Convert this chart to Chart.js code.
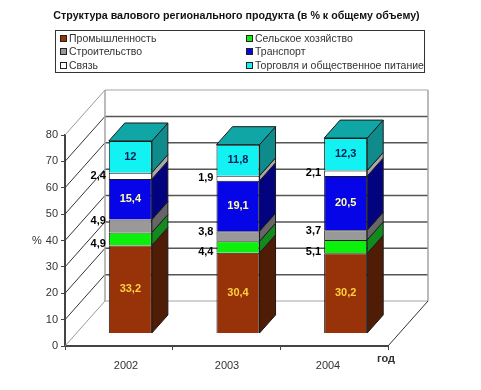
<!DOCTYPE html>
<html>
<head>
<meta charset="utf-8">
<script src="https://cdn.jsdelivr.net/npm/chart.js@4"></script>
<style>
  body { margin: 0; background: #fff; }
  #wrap { position: relative; width: 481px; height: 390px; overflow: hidden; }
  canvas { position: absolute; left: 0; top: 0; }
  #title {
    position: absolute; left: 0; top: 9px; width: 473px; text-align: center; white-space: nowrap;
    font: bold 10.7px "Liberation Sans", Arial, sans-serif; color: #111;
  }
  #legend {
    position: absolute; left: 55px; top: 30px; width: 364px; height: 41px;
    border: 1px solid #333; padding-left: 4px;
    display: grid; grid-template-columns: 186px 1fr; grid-auto-rows: 13.6px;
    font: 10.5px "Liberation Sans", Arial, sans-serif; color: #333; align-items: center;
  }
  #legend i {
    display: inline-block; width: 5px; height: 5px; border: 1px solid #222;
    margin-right: 2px; vertical-align: 0;
  }
  #legend span { white-space: nowrap; }
</style>
</head>
<body>
<div id="wrap">
  <canvas id="chart" width="473" height="390"></canvas>
  <div id="title">Структура валового регионального продукта (в % к общему объему)</div>
  <div id="legend"></div>
</div>
<script>
/* data */
const years = [2002, 2003, 2004];
const yTicksMax = 80;
const seriesNames = ['Промышленность', 'Сельское хозяйство', 'Строительство', 'Транспорт', 'Связь', 'Торговля и общественное питание'];
const industry = [33.2, 30.4, 30.2];
const agriculture = [4.9, 4.4, 5.1];
const construction = [4.9, 3.8, 3.7];
const transport = [15.4, 19.1, 20.5];
const telecom = [2.4, 1.9, 2.1];
const trade = [12, 11.8, 12.3];
const seriesValues = [industry, agriculture, construction, transport, telecom, trade];

/* styles, same order as the series */
const frontColors = ['#983208', '#0cf00c', '#999999', '#0505e8', '#ffffff', '#12f2f2'];
const sideColors = ['#4f1c06', '#128a1e', '#666666', '#03037f', '#a8a8a8', '#0f8b8b'];
const topColor = '#10a6a6';
// where the value label goes: inside the bar, or left of it at the segment's base/top/middle
const labelPlace = ['in', 'base', 'top', 'in', 'middle', 'in'];
const labelColors = ['#ffd23c', '#000', '#000', '#ffffa8', '#000', '#0b1f55'];

const WALL_DX = 40, WALL_DY = 45;   // front axis -> back wall
const BAR_DX = 16, BAR_DY = 18;     // depth of a bar
const BAR_SHIFT_X = 11.5, BAR_SHIFT_Y = 13; // bars stand a bit behind the front axis

const fmtValue = v => String(v).replace('.', ',');

function line(ctx, x1, y1, x2, y2, color, width) {
  ctx.strokeStyle = color;
  ctx.lineWidth = width;
  ctx.beginPath();
  ctx.moveTo(x1, y1);
  ctx.lineTo(x2, y2);
  ctx.stroke();
}

function poly(ctx, pts, fill) {
  ctx.fillStyle = fill;
  ctx.strokeStyle = '#1a1a1a';
  ctx.lineWidth = 1;
  ctx.beginPath();
  pts.forEach((p, i) => i ? ctx.lineTo(p[0], p[1]) : ctx.moveTo(p[0], p[1]));
  ctx.closePath();
  ctx.fill();
  ctx.stroke();
}

/* walls and floor, from the y axis ticks */
const wallsPlugin = {
  id: 'walls',
  beforeDatasetsDraw(chart) {
    const ctx = chart.ctx, y = chart.scales.y, a = chart.chartArea;
    const backL = a.left + WALL_DX, backR = a.right + WALL_DX;
    ctx.save();
    y.ticks.forEach(t => {
      const py = y.getPixelForValue(t.value);
      const edge = t.value === 0 || t.value === yTicksMax;
      line(ctx, backL, py - WALL_DY, backR, py - WALL_DY, edge ? '#a5a5a5' : '#555', edge ? 1 : 1.5);
      line(ctx, a.left, py, backL, py - WALL_DY, edge ? '#999' : '#333', 1);
    });
    line(ctx, backL, a.top - WALL_DY, backL, a.bottom - WALL_DY, '#a5a5a5', 1.5);
    line(ctx, backR, a.top - WALL_DY, backR, a.bottom - WALL_DY, '#a5a5a5', 1.5);
    line(ctx, a.right, a.bottom, backR, a.bottom - WALL_DY, '#333', 1);
    ctx.restore();
  }
};

/* side and top faces of the bars, value labels, axis titles */
const bars3dPlugin = {
  id: 'bars3d',
  afterDatasetsDraw(chart) {
    const ctx = chart.ctx;
    const last = chart.data.datasets.length - 1;
    ctx.save();
    chart.data.datasets.forEach((ds, i) => {
      chart.getDatasetMeta(i).data.forEach(bar => {
        const r = bar.x + bar.width / 2, l = bar.x - bar.width / 2;
        poly(ctx, [[r, bar.y], [r + BAR_DX, bar.y - BAR_DY], [r + BAR_DX, bar.base - BAR_DY], [r, bar.base]], sideColors[i]);
        if (i === last) {
          poly(ctx, [[l, bar.y], [l + BAR_DX, bar.y - BAR_DY], [r + BAR_DX, bar.y - BAR_DY], [r, bar.y]], topColor);
        }
      });
    });
    ctx.font = 'bold 11px "Liberation Sans", Arial, sans-serif';
    ctx.textBaseline = 'middle';
    chart.data.datasets.forEach((ds, i) => {
      ctx.fillStyle = labelColors[i];
      chart.getDatasetMeta(i).data.forEach((bar, j) => {
        const text = fmtValue(seriesValues[i][j]);
        const mid = (bar.y + bar.base) / 2;
        if (labelPlace[i] === 'in') {
          ctx.textAlign = 'center';
          ctx.fillText(text, bar.x, mid);
        } else {
          ctx.textAlign = 'right';
          const py = labelPlace[i] === 'base' ? bar.base - 1 : labelPlace[i] === 'top' ? bar.y + 1 : mid;
          ctx.fillText(text, bar.x - bar.width / 2 - 3, py);
        }
      });
    });
    // axis names
    const a = chart.chartArea;
    ctx.textAlign = 'center';
    ctx.fillStyle = '#333';
    ctx.font = '11px "Liberation Sans", Arial, sans-serif';
    ctx.fillText('%', a.left - 28, (a.top + a.bottom) / 2);
    ctx.font = 'bold 11px "Liberation Sans", Arial, sans-serif';
    ctx.fillText('год', a.right - 2, a.bottom + 13);
    ctx.restore();
  }
};

const datasets = seriesNames.map((name, i) => ({
  label: name,
  data: years.map((yr, j) => ({ x: yr, y: seriesValues[i][j] })),
  backgroundColor: frontColors[i],
  borderColor: '#1a1a1a',
  borderWidth: 1,
  xAxisID: 'xBars',
  yAxisID: 'yBars',
  barPercentage: 0.4,
  categoryPercentage: 1
}));

const tickFont = { size: 11, family: '"Liberation Sans", Arial, sans-serif' };
const axisDark = '#444';
const plotW = 323, plotH = 211; // size of the front axes
const shiftX = BAR_SHIFT_X / (plotW / years.length);
const shiftY = BAR_SHIFT_Y / (plotH / yTicksMax);
const yearTicks = s => { s.ticks = years.map(value => ({ value })); };

new Chart(document.getElementById('chart'), {
  type: 'bar',
  data: { labels: years.map(String), datasets: datasets },
  options: {
    responsive: false,
    animation: false,
    layout: { padding: { left: 0, right: 85, top: 135, bottom: 0 } },
    plugins: {
      legend: { display: false },
      tooltip: { enabled: false }
    },
    scales: {
      // visible front axes
      y: {
        position: 'left',
        min: 0,
        max: yTicksMax,
        ticks: { stepSize: 10, color: '#333', font: tickFont, padding: 3 },
        grid: { drawOnChartArea: false, tickLength: 4, color: axisDark },
        border: { color: axisDark, width: 2 },
        afterFit: s => { s.width = 65; }
      },
      xMarks: {
        type: 'category',
        position: 'bottom',
        offset: true,
        weight: 1,
        labels: years.map(String),
        ticks: { display: false },
        grid: { offset: true, drawOnChartArea: false, tickLength: 4, color: axisDark },
        border: { color: axisDark, width: 2 },
        afterFit: s => { s.height = 5; }
      },
      xLabels: {
        type: 'linear',
        position: 'bottom',
        weight: 2,
        offset: false,
        bounds: 'data',
        min: years[0] - 0.604,
        max: years[2] + 0.594,
        afterBuildTicks: yearTicks,
        ticks: { color: '#333', font: tickFont, padding: 0, maxRotation: 0, callback: v => String(v) },
        grid: { display: false },
        border: { display: false },
        afterFit: s => { s.height = 39; }
      },
      // hidden scales the bars are placed on: same units, moved back from the front axes
      xBars: {
        type: 'linear',
        display: false,
        stacked: true,
        offset: false,
        bounds: 'data',
        min: years[0] - 0.5 - shiftX,
        max: years[2] + 0.5 - shiftX,
        afterBuildTicks: yearTicks
      },
      yBars: {
        type: 'linear',
        display: false,
        stacked: true,
        bounds: 'data',
        min: -shiftY,
        max: yTicksMax - shiftY
      }
    }
  },
  plugins: [wallsPlugin, bars3dPlugin]
});

// legend box, two columns like the original
const legendEl = document.getElementById('legend');
seriesNames.forEach((name, i) => {
  const item = document.createElement('span');
  const box = document.createElement('i');
  box.style.background = frontColors[i];
  item.appendChild(box);
  item.appendChild(document.createTextNode(name));
  legendEl.appendChild(item);
});
</script>
</body>
</html>
